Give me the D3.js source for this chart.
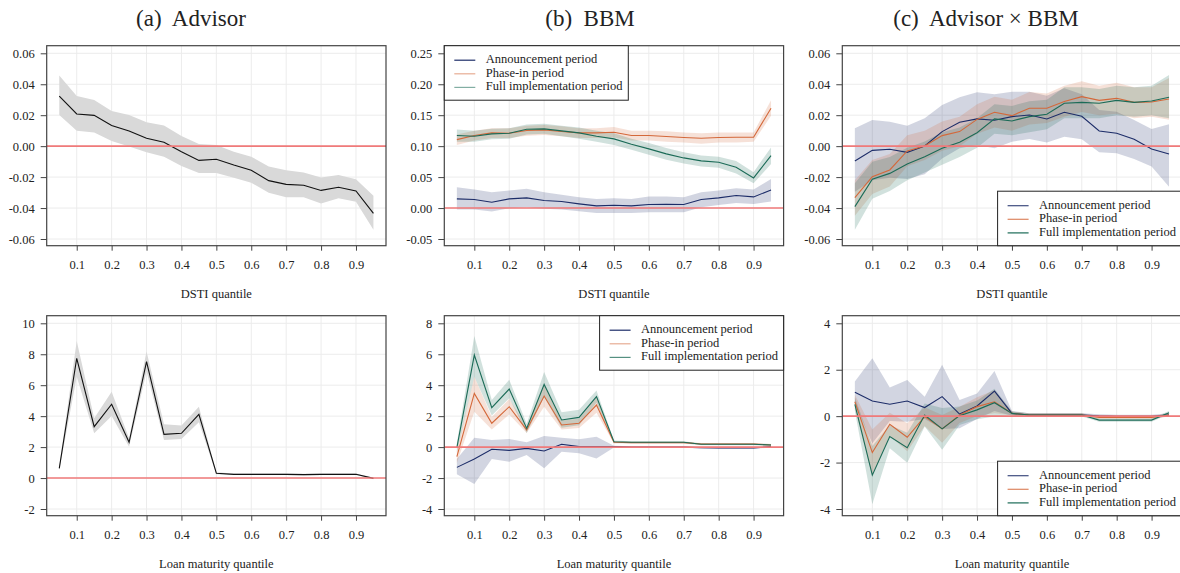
<!DOCTYPE html>
<html><head><meta charset="utf-8">
<script src="https://cdn.jsdelivr.net/npm/d3@7"></script>
<style>body{margin:0;background:#fff}svg{display:block}text{font-family:"Liberation Serif","Times New Roman",serif;fill:#222}</style>
</head><body><svg id="c" width="1180" height="573"></svg>
<script>
// ---------- data ----------
const quantiles = [0.05,0.10,0.15,0.20,0.25,0.30,0.35,0.40,0.45,0.50,0.55,0.60,0.65,0.70,0.75,0.80,0.85,0.90,0.95];
const xTicks = [0.1,0.2,0.3,0.4,0.5,0.6,0.7,0.8,0.9];
const xTickLabels = ["0.1","0.2","0.3","0.4","0.5","0.6","0.7","0.8","0.9"];
const panelTitles = ["(a)  Advisor","(b)  BBM","(c)  Advisor \u00d7 BBM"];
const xTitles = ["DSTI quantile","Loan maturity quantile"];
const seriesNames = ["Announcement period","Phase-in period","Full implementation period"];

const yTicksDstiA = [-0.06,-0.04,-0.02,0,0.02,0.04,0.06];
const yLabelsDstiA = ["-0.06","-0.04","-0.02","0.00","0.02","0.04","0.06"];
const yTicksDstiB = [-0.05,0,0.05,0.10,0.15,0.20,0.25];
const yLabelsDstiB = ["-0.05","0.00","0.05","0.10","0.15","0.20","0.25"];
const yTicksMatA = [-2,0,2,4,6,8,10];
const yLabelsMatA = ["-2","0","2","4","6","8","10"];
const yTicksMatB = [-4,-2,0,2,4,6,8];
const yLabelsMatB = ["-4","-2","0","2","4","6","8"];
const yTicksMatC = [-4,-2,0,2,4];
const yLabelsMatC = ["-4","-2","0","2","4"];

// (a) Advisor, DSTI
const advDsti   = [0.0324,0.0208,0.0199,0.0133,0.0098,0.0051,0.0025,-0.0036,-0.0092,-0.0085,-0.0122,-0.0156,-0.0223,-0.0247,-0.0253,-0.0286,-0.0266,-0.0290,-0.0434];
const advDstiHi = [0.0456,0.0324,0.0298,0.0227,0.0202,0.0154,0.0133,0.0066,0.0014,0.0008,-0.0036,-0.0068,-0.0132,-0.0156,-0.0171,-0.0202,-0.0186,-0.0214,-0.0320];
const advDstiLo = [0.0202,0.0100,0.0089,0.0033,-0.0003,-0.0040,-0.0068,-0.0128,-0.0173,-0.0173,-0.0204,-0.0236,-0.0301,-0.0331,-0.0331,-0.0370,-0.0337,-0.0359,-0.0540];

// (b) BBM, DSTI
const bbmDstiAnn   = [0.0148,0.0137,0.0094,0.0148,0.0164,0.0121,0.0105,0.0067,0.0035,0.0046,0.0035,0.0057,0.0062,0.0057,0.0137,0.0164,0.0202,0.0180,0.0293];
const bbmDstiAnnHi = [0.0337,0.0299,0.0256,0.0283,0.0310,0.0256,0.0213,0.0175,0.0148,0.0159,0.0148,0.0186,0.0186,0.0175,0.0256,0.0283,0.0320,0.0299,0.0471];
const bbmDstiAnnLo = [-0.0024,-0.0024,-0.0057,-0.0003,0.0013,-0.0013,-0.0024,-0.0051,-0.0078,-0.0078,-0.0078,-0.0067,-0.0067,-0.0067,0.0013,0.0051,0.0083,0.0067,0.0105];
const bbmDstiPha   = [0.1105,0.1171,0.1214,0.1209,0.1252,0.1263,0.1236,0.1214,0.1214,0.1225,0.1171,0.1171,0.1155,0.1139,0.1128,0.1139,0.1144,0.1144,0.1613];
const bbmDstiPhaHi = [0.119,0.125,0.129,0.129,0.133,0.134,0.132,0.129,0.129,0.131,0.125,0.125,0.124,0.122,0.121,0.122,0.122,0.122,0.174];
const bbmDstiPhaLo = [0.102,0.109,0.113,0.113,0.117,0.118,0.116,0.113,0.113,0.114,0.109,0.109,0.107,0.106,0.104,0.106,0.106,0.107,0.149];
const bbmDstiFul   = [0.1171,0.1160,0.1198,0.1209,0.1273,0.1279,0.1247,0.1214,0.1160,0.1117,0.1031,0.0956,0.0875,0.0810,0.0762,0.0740,0.0660,0.0487,0.0848];
const bbmDstiFulHi = [0.127,0.125,0.128,0.129,0.135,0.136,0.133,0.130,0.125,0.121,0.112,0.105,0.097,0.090,0.085,0.083,0.076,0.058,0.098];
const bbmDstiFulLo = [0.107,0.107,0.111,0.112,0.119,0.120,0.116,0.112,0.107,0.102,0.094,0.086,0.078,0.072,0.067,0.065,0.056,0.040,0.071];

// (c) Advisor x BBM, DSTI
const intDstiAnn   = [-0.0096,-0.0027,-0.0020,-0.0040,0.0001,0.0094,0.0154,0.0176,0.0167,0.0191,0.0201,0.0176,0.0219,0.0193,0.0098,0.0083,0.0044,-0.0018,-0.0051];
const intDstiAnnHi = [0.0115,0.0169,0.0158,0.0132,0.0180,0.0266,0.0316,0.0348,0.0335,0.0352,0.0352,0.0326,0.0374,0.0335,0.0234,0.0223,0.0169,0.0111,0.0141];
const intDstiAnnLo = [-0.0294,-0.0221,-0.0204,-0.0212,-0.0182,-0.0079,-0.0014,0.0008,-0.0014,0.0029,0.0046,0.0023,0.0061,0.0044,-0.0040,-0.0046,-0.0083,-0.0132,-0.0262];
const intDstiPha   = [-0.0333,-0.0197,-0.0154,-0.0031,0.0001,0.0068,0.0094,0.0173,0.0219,0.0197,0.0245,0.0245,0.0288,0.0320,0.0296,0.0309,0.0283,0.0285,0.0305];
const intDstiPhaHi = [-0.022,-0.009,-0.005,0.007,0.010,0.016,0.019,0.027,0.032,0.030,0.035,0.034,0.039,0.042,0.039,0.041,0.038,0.038,0.044];
const intDstiPhaLo = [-0.045,-0.031,-0.026,-0.013,-0.009,-0.003,0.000,0.008,0.012,0.010,0.014,0.015,0.019,0.022,0.020,0.021,0.018,0.019,0.017];
const intDstiFul   = [-0.0391,-0.0214,-0.0176,-0.0115,-0.0068,-0.0014,0.0025,0.0087,0.0176,0.0163,0.0191,0.0206,0.0277,0.0283,0.0277,0.0296,0.0283,0.0292,0.0316];
const intDstiFulHi = [-0.024,-0.010,-0.007,-0.001,0.003,0.009,0.012,0.018,0.027,0.026,0.029,0.030,0.038,0.038,0.037,0.039,0.038,0.039,0.046];
const intDstiFulLo = [-0.054,-0.034,-0.029,-0.022,-0.017,-0.012,-0.007,-0.001,0.008,0.007,0.009,0.011,0.018,0.018,0.018,0.020,0.019,0.020,0.018];

// (a) Advisor, loan maturity
const advMat   = [0.63,7.74,3.32,4.77,2.31,7.52,2.82,2.89,4.12,0.31,0.24,0.24,0.24,0.24,0.22,0.24,0.24,0.24,-0.02];
const advMatHi = [0.75,8.85,3.86,5.58,2.57,8.17,3.47,3.39,4.61,0.37,0.29,0.29,0.29,0.29,0.27,0.29,0.29,0.29,0.03];
const advMatLo = [0.51,6.55,2.89,4.01,2.03,6.88,2.46,2.53,3.60,0.25,0.19,0.19,0.19,0.19,0.17,0.19,0.19,0.19,-0.07];

// (b) BBM, loan maturity
const bbmMatAnn   = [-1.31,-0.77,-0.14,-0.21,-0.08,-0.25,0.18,0.03,0.03,0.03,0.01,0.00,0.00,0.00,-0.04,-0.06,-0.06,-0.06,0.03];
const bbmMatAnnHi = [-0.77,0.61,0.46,0.52,0.31,0.72,0.61,0.50,0.67,0.08,0.05,0.04,0.04,0.04,0.01,-0.01,-0.01,-0.01,0.08];
const bbmMatAnnLo = [-1.76,-2.39,-0.77,-0.94,-0.51,-1.37,-0.30,-0.40,-0.73,-0.02,-0.03,-0.04,-0.04,-0.04,-0.09,-0.11,-0.11,-0.11,-0.02];
const bbmMatPha   = [-0.62,3.47,1.54,2.61,1.11,3.30,1.43,1.54,2.72,0.31,0.29,0.29,0.29,0.29,0.20,0.20,0.20,0.20,0.14];
const bbmMatPhaHi = [-0.22,4.55,1.94,3.11,1.31,4.00,1.73,1.84,3.22,0.38,0.35,0.35,0.35,0.35,0.26,0.26,0.26,0.26,0.20];
const bbmMatPhaLo = [-1.02,2.29,1.14,2.11,0.91,2.60,1.13,1.24,2.22,0.24,0.23,0.23,0.23,0.23,0.14,0.14,0.14,0.14,0.08];
const bbmMatFul   = [-0.04,5.95,2.55,3.75,1.21,4.05,1.75,1.92,3.26,0.35,0.31,0.31,0.31,0.31,0.18,0.18,0.18,0.18,0.14];
const bbmMatFulHi = [0.26,7.18,3.05,4.35,1.51,4.85,2.25,2.42,3.66,0.42,0.37,0.37,0.37,0.37,0.24,0.24,0.24,0.24,0.20];
const bbmMatFulLo = [-0.34,4.55,2.05,3.15,0.91,3.25,1.25,1.42,2.86,0.28,0.25,0.25,0.25,0.25,0.12,0.12,0.12,0.12,0.08];

// (c) Advisor x BBM, loan maturity
const intMatAnn   = [1.03,0.65,0.51,0.65,0.37,0.84,0.09,0.44,1.08,0.12,0.05,0.05,0.05,0.05,0.01,-0.01,-0.01,-0.01,0.05];
const intMatAnnHi = [1.49,2.49,1.23,1.56,0.84,2.21,0.70,0.98,1.95,0.22,0.12,0.12,0.12,0.12,0.08,0.06,0.06,0.06,0.12];
const intMatAnnLo = [0.55,-1.17,-0.21,-0.24,-0.12,-0.55,-0.52,-0.12,0.22,0.02,-0.02,-0.02,-0.02,-0.02,-0.06,-0.08,-0.08,-0.08,-0.02];
const intMatPha   = [0.62,-1.57,-0.35,-0.91,-0.02,-0.55,0.05,0.41,0.62,0.12,0.05,0.05,0.05,0.05,-0.06,-0.06,-0.06,-0.06,0.05];
const intMatPhaHi = [0.92,-0.57,0.15,-0.31,0.38,0.05,0.40,0.81,1.12,0.20,0.12,0.12,0.12,0.12,0.01,0.01,0.01,0.01,0.12];
const intMatPhaLo = [0.32,-2.57,-0.85,-1.51,-0.42,-1.15,-0.30,0.01,0.12,0.04,-0.02,-0.02,-0.02,-0.02,-0.13,-0.13,-0.13,-0.13,-0.02];
const intMatFul   = [0.51,-2.54,-0.88,-1.36,0.05,-0.55,0.02,0.27,0.58,0.12,0.05,0.05,0.05,0.05,-0.17,-0.17,-0.17,-0.17,0.15];
const intMatFulHi = [0.81,-1.29,-0.38,-0.71,0.55,0.35,0.42,0.67,1.18,0.20,0.12,0.12,0.12,0.12,-0.10,-0.10,-0.10,-0.10,0.22];
const intMatFulLo = [0.21,-3.79,-1.38,-2.01,-0.45,-1.45,-0.38,-0.13,-0.02,0.04,-0.02,-0.02,-0.02,-0.02,-0.24,-0.24,-0.24,-0.24,0.08];

// ---------- styling ----------
const COL = {ann:"#1c2c68", pha:"#d4683a", ful:"#1b6b57"};
const svg = d3.select("#c");
const frameW = 339.3, frameH = 200;
const colLeft = [46.7, 444.3, 842.3];
const rowTop = [45.7, 315.7];

[0,1,2].forEach(i=>{
  svg.append("text").attr("x",[191,590,986][i]).attr("y",26)
    .attr("text-anchor","middle").style("font-size","23px").style("white-space","pre")
    .style("font-family","'Liberation Serif',serif")
    .text(panelTitles[i]);
});

function panel(col,row,cfg){
  const L = colLeft[col], T = rowTop[row], B = T+frameH, R = L+frameW;
  const g = svg.append("g");
  const x = d3.scaleLinear().domain([0.014,0.986]).range([L,R]);
  const yt = cfg.yTicks;
  const y = d3.scaleLinear().domain([yt[0], yt[yt.length-1]]).range([B-6.7, T+7.6]);
  // grid
  g.append("g").selectAll("line").data(xTicks).join("line")
    .attr("x1",d=>x(d)).attr("x2",d=>x(d)).attr("y1",T).attr("y2",B)
    .attr("stroke","#ececec").attr("stroke-width",1);
  g.append("g").selectAll("line").data(yt).join("line")
    .attr("x1",L).attr("x2",R).attr("y1",d=>y(d)).attr("y2",d=>y(d))
    .attr("stroke","#ececec").attr("stroke-width",1);
  const area = d3.area().x((d,i)=>x(quantiles[i])).y0(d=>y(d[0])).y1(d=>y(d[1]));
  const line = d3.line().x((d,i)=>x(quantiles[i])).y(d=>y(d));
  cfg.series.forEach(s=>{
    const band = s.lo.map((v,i)=>[v,s.hi[i]]);
    g.append("path").attr("d",area(band))
      .attr("fill",s.bandColor||s.color).attr("fill-opacity",s.bandColor?1:0.2);
  });
  cfg.series.forEach(s=>{
    g.append("path").attr("d",line(s.val)).attr("fill","none")
      .attr("stroke",s.color).attr("stroke-width",1.1);
  });
  // zero line
  g.append("line").attr("x1",L).attr("x2",R).attr("y1",y(0)).attr("y2",y(0))
    .attr("stroke","#f07a7a").attr("stroke-width",1.6);
  // frame
  g.append("rect").attr("x",L).attr("y",T).attr("width",frameW).attr("height",frameH)
    .attr("fill","none").attr("stroke","#444").attr("stroke-width",1.2);
  // axes
  const ax = g.append("g").attr("transform",`translate(0,${B})`)
    .call(d3.axisBottom(x).tickValues(xTicks).tickFormat((d,i)=>xTickLabels[i]).tickSize(5).tickPadding(9));
  const ay = g.append("g").attr("transform",`translate(${L},0)`)
    .call(d3.axisLeft(y).tickValues(yt).tickFormat((d,i)=>cfg.yLabels[i]).tickSize(6).tickPadding(6));
  [ax,ay].forEach(a=>{
    a.select(".domain").remove();
    a.selectAll("line").attr("stroke","#444");
    a.selectAll("text").style("font-size","12.5px").style("font-family","'Liberation Serif',serif").attr("fill","#222");
  });
  g.append("text").attr("x",(L+R)/2).attr("y",B+52).attr("text-anchor","middle")
    .style("font-size","12.5px").text(xTitles[row]);
  if(cfg.legend){
    const lw = 184, lh = 54.5;
    const lx = cfg.legend==="tl" ? L : R-lw;
    const ly = cfg.legend==="tr"||cfg.legend==="tl" ? T : B-lh;
    const lg = g.append("g");
    lg.append("rect").attr("x",lx).attr("y",ly).attr("width",lw).attr("height",lh)
      .attr("fill","#fff").attr("stroke","#222").attr("stroke-width",1);
    cfg.series.forEach((s,i)=>{
      const yy = ly+14.5+i*13.6;
      lg.append("line").attr("x1",lx+10).attr("x2",lx+31).attr("y1",yy).attr("y2",yy)
        .attr("stroke",s.color).attr("stroke-width",1.2).attr("stroke-opacity",cfg.legendOpacity?cfg.legendOpacity[i]:1);
      lg.append("text").attr("x",lx+41.5).attr("y",yy).attr("dominant-baseline","middle")
        .style("font-size","12.5px").text(seriesNames[i]);
    });
  }
}

panel(0,0,{yTicks:yTicksDstiA,yLabels:yLabelsDstiA,series:[
  {val:advDsti,lo:advDstiLo,hi:advDstiHi,color:"#111",bandColor:"#d9d9d9"}]});
panel(1,0,{yTicks:yTicksDstiB,yLabels:yLabelsDstiB,legend:"tl",legendOpacity:[1,0.55,0.55],series:[
  {val:bbmDstiAnn,lo:bbmDstiAnnLo,hi:bbmDstiAnnHi,color:COL.ann},
  {val:bbmDstiPha,lo:bbmDstiPhaLo,hi:bbmDstiPhaHi,color:COL.pha},
  {val:bbmDstiFul,lo:bbmDstiFulLo,hi:bbmDstiFulHi,color:COL.ful}]});
panel(2,0,{yTicks:yTicksDstiA,yLabels:yLabelsDstiA,legend:"br",legendOpacity:[0.85,0.8,1],series:[
  {val:intDstiAnn,lo:intDstiAnnLo,hi:intDstiAnnHi,color:COL.ann},
  {val:intDstiPha,lo:intDstiPhaLo,hi:intDstiPhaHi,color:COL.pha},
  {val:intDstiFul,lo:intDstiFulLo,hi:intDstiFulHi,color:COL.ful}]});
panel(0,1,{yTicks:yTicksMatA,yLabels:yLabelsMatA,series:[
  {val:advMat,lo:advMatLo,hi:advMatHi,color:"#111",bandColor:"#d9d9d9"}]});
panel(1,1,{yTicks:yTicksMatB,yLabels:yLabelsMatB,legend:"tr",legendOpacity:[1,0.55,0.75],series:[
  {val:bbmMatAnn,lo:bbmMatAnnLo,hi:bbmMatAnnHi,color:COL.ann},
  {val:bbmMatPha,lo:bbmMatPhaLo,hi:bbmMatPhaHi,color:COL.pha},
  {val:bbmMatFul,lo:bbmMatFulLo,hi:bbmMatFulHi,color:COL.ful}]});
panel(2,1,{yTicks:yTicksMatC,yLabels:yLabelsMatC,legend:"br",legendOpacity:[0.85,0.8,1],series:[
  {val:intMatAnn,lo:intMatAnnLo,hi:intMatAnnHi,color:COL.ann},
  {val:intMatPha,lo:intMatPhaLo,hi:intMatPhaHi,color:COL.pha},
  {val:intMatFul,lo:intMatFulLo,hi:intMatFulHi,color:COL.ful}]});
</script></body></html>
